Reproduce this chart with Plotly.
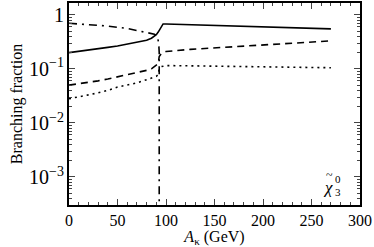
import plotly.graph_objects as go

x_main = [0, 10, 20, 30, 40, 50, 60, 70, 80, 85, 90, 92, 93, 95, 97, 100, 125, 150, 175, 200, 225, 250, 270]
solid = [0.20, 0.21, 0.22, 0.235, 0.25, 0.265, 0.285, 0.31, 0.34, 0.37, 0.43, 0.48, 0.52, 0.62, 0.68, 0.68, 0.66, 0.64, 0.62, 0.60, 0.58, 0.56, 0.55]
dashed = [0.05, 0.053, 0.056, 0.06, 0.065, 0.071, 0.077, 0.084, 0.094, 0.10, 0.115, 0.125, 0.17, 0.19, 0.20, 0.21, 0.23, 0.245, 0.265, 0.285, 0.30, 0.315, 0.33]
dotted = [0.028, 0.030, 0.033, 0.036, 0.040, 0.046, 0.050, 0.055, 0.063, 0.067, 0.073, 0.078, 0.10, 0.11, 0.113, 0.115, 0.114, 0.112, 0.111, 0.11, 0.108, 0.107, 0.105]
x_dd = [0, 20, 40, 60, 80, 88, 91, 92.5, 93, 93]
dashdot = [0.70, 0.66, 0.62, 0.56, 0.48, 0.44, 0.40, 0.30, 0.2, 1e-4]

fig = go.Figure()
lw = 1.6
fig.add_trace(go.Scatter(x=x_main, y=solid, mode="lines", line=dict(color="black", width=lw, dash="solid")))
fig.add_trace(go.Scatter(x=x_main, y=dashed, mode="lines", line=dict(color="black", width=lw, dash="7px,5px")))
fig.add_trace(go.Scatter(x=x_main, y=dotted, mode="lines", line=dict(color="black", width=lw, dash="2px,4px")))
fig.add_trace(go.Scatter(x=x_dd, y=dashdot, mode="lines", line=dict(color="black", width=lw, dash="8px,5px,2px,5px")))

font = "Liberation Serif"
fig.update_layout(
    width=374, height=247,
    margin=dict(l=69, r=14, t=3, b=42),
    paper_bgcolor="white", plot_bgcolor="white",
    showlegend=False,
    font=dict(family=font, size=16, color="black"),
    xaxis=dict(range=[0, 300], dtick=50, ticks="inside", ticklen=6, tickwidth=1.2,
               mirror="ticks", showline=True, linecolor="black", linewidth=1.8,
               showgrid=False, zeroline=False, automargin=False,
               minor=dict(dtick=10, ticks="inside", ticklen=3, tickwidth=1),
               title=dict(text="<i>A</i><sub>κ</sub> (GeV)", font=dict(size=16), standoff=0),
               tickfont=dict(size=16)),
    yaxis=dict(type="log", range=[-3.52, 0.22], dtick=1, exponentformat="power",
               ticks="inside", ticklen=6, tickwidth=1.2,
               mirror="ticks", showline=True, linecolor="black", linewidth=1.8,
               showgrid=False, zeroline=False, automargin=False,
               minor=dict(dtick="D1", ticks="inside", ticklen=3, tickwidth=1),
               title=dict(text="Branching fraction", font=dict(size=16), standoff=2),
               tickfont=dict(size=16)),
)
fig.add_annotation(x=0.89, y=0.088, xref="paper", yref="paper", xanchor="center", yanchor="middle",
                   text="<i>χ</i>", showarrow=False, font=dict(size=17, family=font))
fig.add_annotation(x=0.895, y=0.15, xref="paper", yref="paper", xanchor="center", yanchor="middle",
                   text="~", showarrow=False, font=dict(size=12, family=font))
fig.add_annotation(x=0.926, y=0.128, xref="paper", yref="paper", xanchor="center", yanchor="middle",
                   text="0", showarrow=False, font=dict(size=11, family=font))
fig.add_annotation(x=0.926, y=0.064, xref="paper", yref="paper", xanchor="center", yanchor="middle",
                   text="3", showarrow=False, font=dict(size=11, family=font))
fig.write_html("out.html", config={"displayModeBar": False},
               post_script="document.body.style.margin='0';document.body.style.overflow='hidden';")
